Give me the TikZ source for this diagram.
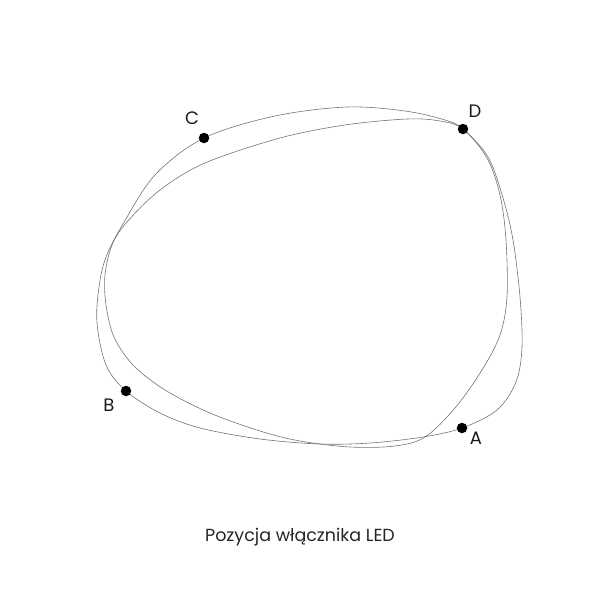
\documentclass[tikz,border=0pt]{standalone}
\usepackage{fontspec}
\setmainfont{Poppins}
\begin{document}
\begin{tikzpicture}[x=1pt,y=-1pt,
  outline/.style={draw=black!55,line width=0.6pt},
  dot/.style={circle,fill=black,inner sep=0pt,minimum size=10.5pt},
  lbl/.style={font=\fontsize{18}{20}\selectfont,text=black!90}]
\useasboundingbox (0,0) rectangle (600,600);
% curve 1 (through C, D, A, B)
\draw[outline] plot[smooth cycle,tension=0.55] coordinates{
 (204,138) (275,116) (347,107) (405,111) (445,120) (463,129) (488,157) (503,198)
 (513,240) (520,297) (522,347) (516,382) (497,410) (462,428) (423,437)
 (370,443) (320,444) (260,439) (200,428) (160,413) (126,391) (106,365)
 (97,323) (99,287) (106,257) (123,224) (155,175)};
% curve 2
\draw[outline] plot[smooth cycle,tension=0.55] coordinates{
 (463,129) (440,121) (407,119) (345,125) (280,138) (205,163) (160,190)
 (127,222) (112,245) (105,275) (106,305) (114,337) (133,365) (165,390)
 (210,413) (260,431) (300,441) (350,447) (395,446) (425,437) (455,408)
 (482,370) (500,335) (507,297) (506,240) (500,195) (487,158)};
\node[dot] (C) at (204,138) {};
\node[dot] (D) at (463,129) {};
\node[dot] (B) at (126,391) {};
\node[dot] (A) at (462,428) {};
\node[lbl] (lC) at (192,118) {C};
\node[lbl] (lD) at (475,111) {D};
\node[lbl] (lB) at (109,405) {B};
\node[lbl] (lA) at (476,438) {A};
\node[font=\fontsize{17.5}{20}\selectfont,text=black!85] (cap) at (300,537) {Pozycja włącznika LED};
\end{tikzpicture}
\end{document}
